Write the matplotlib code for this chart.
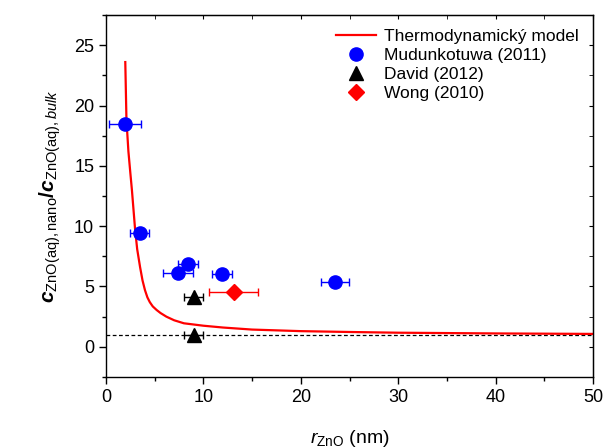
import numpy as np
import matplotlib
matplotlib.use("Agg")
import matplotlib.pyplot as plt
from matplotlib.ticker import MultipleLocator
from matplotlib.lines import Line2D

plt.rcParams['font.family'] = ['Liberation Sans', 'DejaVu Sans']
plt.rcParams['mathtext.fontset'] = 'custom'
plt.rcParams['mathtext.rm'] = 'Liberation Sans'
plt.rcParams['mathtext.it'] = 'Liberation Sans:italic'
plt.rcParams['mathtext.bf'] = 'Liberation Sans:bold'
plt.rcParams['mathtext.bfit'] = 'Liberation Sans:bold:italic'

# thermodynamic model curve
model_r = [1.98, 2.1, 2.3, 2.5, 2.66, 2.98, 3.2, 3.5, 3.75, 4.0, 4.25, 4.5,
           4.8, 5.2, 5.6, 6.2, 7.0, 8.0, 10, 12, 15, 20, 25, 30, 40, 50]
model_c = [23.6, 18.8, 16.2, 14.4, 13.0, 9.8, 8.1, 6.6, 5.5, 4.7, 4.1, 3.7,
           3.35, 3.05, 2.8, 2.5, 2.2, 1.95, 1.75, 1.6, 1.43, 1.3, 1.23,
           1.17, 1.11, 1.07]

# Mudunkotuwa (2011)
mud_r = [1.95, 3.45, 8.4, 7.4, 11.9, 23.5]
mud_c = [18.5, 9.4, 6.9, 6.1, 6.0, 5.4]
mud_err = [1.6, 1.0, 1.0, 1.5, 1.0, 1.45]

# David (2012)
dav_r = [9.0, 9.0]
dav_c = [4.1, 0.95]
dav_err = [1.0, 1.0]

# Wong (2010)
wong_r = [13.1]
wong_c = [4.55]
wong_err = [2.55]

fig = plt.figure(figsize=(6.04, 4.48), dpi=100)
ax = fig.add_axes([0.1755, 0.1585, 0.8063, 0.808])

ax.axhline(1.0, color='black', linestyle='--', linewidth=0.9, dashes=(3, 2))
ax.plot(model_r, model_c, color='red', linewidth=1.6)
ax.errorbar(mud_r, mud_c, xerr=mud_err, fmt='o', color='blue', ms=9.5,
            capsize=3, elinewidth=1)
ax.errorbar(dav_r, dav_c, xerr=dav_err, fmt='^', color='black', ms=9.5,
            capsize=3, elinewidth=1)
ax.errorbar(wong_r, wong_c, xerr=wong_err, fmt='D', color='red', ms=8,
            capsize=3, elinewidth=1)

ax.set_xlim(0, 50)
ax.set_ylim(-2.5, 27.5)
ax.xaxis.set_major_locator(MultipleLocator(10))
ax.xaxis.set_minor_locator(MultipleLocator(5))
ax.yaxis.set_major_locator(MultipleLocator(5))
ax.yaxis.set_minor_locator(MultipleLocator(2.5))
ax.tick_params(which='major', direction='out', length=5, width=1, labelsize=13)
ax.tick_params(which='minor', direction='out', length=3, width=1)
for s in ax.spines.values():
    s.set_linewidth(1)

# mirrored inward ticks on top and right
axr = ax.secondary_yaxis('right')
axr.yaxis.set_major_locator(MultipleLocator(5))
axr.yaxis.set_minor_locator(MultipleLocator(2.5))
axr.tick_params(which='both', direction='in', length=3, labelright=False)
axt = ax.secondary_xaxis('top')
axt.xaxis.set_major_locator(MultipleLocator(10))
axt.xaxis.set_minor_locator(MultipleLocator(5))
axt.tick_params(which='both', direction='in', length=3, labeltop=False)

ax.set_xlabel(r'$r_{\mathrm{ZnO}}$ (nm)', fontsize=14, labelpad=16)
ax.set_ylabel(r'$\mathbfit{c}_{\mathrm{ZnO(aq),nano}}\mathbf{/}\mathbfit{c}_{\mathrm{ZnO(aq)},\mathit{bulk}}$',
              fontsize=15, labelpad=8)

handles = [
    Line2D([], [], color='red', linewidth=1.6),
    Line2D([], [], color='blue', marker='o', linestyle='none', ms=9.5),
    Line2D([], [], color='black', marker='^', linestyle='none', ms=9.5),
    Line2D([], [], color='red', marker='D', linestyle='none', ms=8),
]
labels = ['Thermodynamický model', 'Mudunkotuwa (2011)', 'David (2012)', 'Wong (2010)']
ax.legend(handles, labels, loc='upper right', frameon=False, fontsize=12.5,
          handlelength=2.3, handletextpad=0.5, labelspacing=0.22,
          borderaxespad=0.4, bbox_to_anchor=(1.0, 1.0))

fig.savefig('out.png', dpi=100)
